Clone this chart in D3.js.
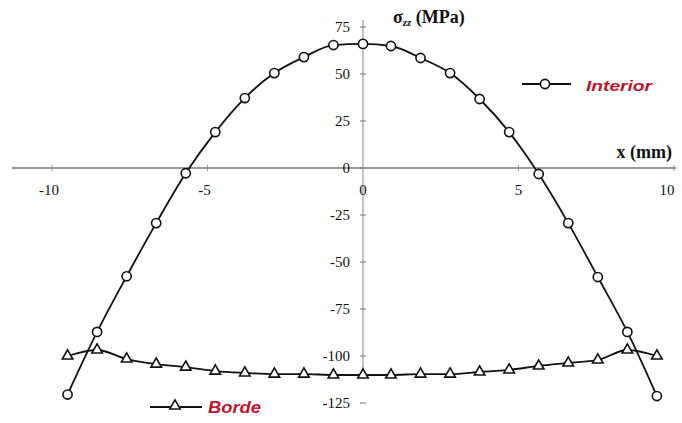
<!DOCTYPE html>
<html><head><meta charset="utf-8">
<script src="https://cdn.jsdelivr.net/npm/d3@7"></script>
<style>body{margin:0;background:#fff}svg{display:block}</style>
</head><body>
<svg id="c" width="682" height="423"></svg>
<script>
const xPos = [-9.5,-8.55,-7.6,-6.65,-5.7,-4.75,-3.8,-2.85,-1.9,-0.95,0,0.9,1.85,2.8,3.75,4.7,5.65,6.6,7.55,8.5,9.45];
const interior = [-120.5,-87.2,-57.6,-29.3,-2.8,19.1,37.2,50.5,59.0,65.4,66.0,64.9,58.5,50.5,36.7,19.1,-3.2,-29.3,-58.0,-87.2,-121.3];
const borde = [-100.0,-96.8,-101.6,-104.3,-105.9,-108.0,-109.0,-109.6,-109.6,-110.1,-110.1,-110.1,-109.6,-109.6,-108.5,-107.4,-105.3,-103.7,-102.1,-96.8,-100.0];
const xTicks = [-10,-5,0,5,10];
const yTicks = [75,50,25,0,-25,-50,-75,-100,-125];

const svg = d3.select("#c");
const x = d3.scaleLinear().domain([-10,10]).range([52,674]);
const y = d3.scaleLinear().domain([-125,75]).range([403,27]);
const serif = "'Liberation Serif','Times New Roman',serif";
const sans = "'Liberation Sans',Arial,sans-serif";

// x axis line
svg.append("line").attr("x1",12).attr("x2",676).attr("y1",y(0)).attr("y2",y(0))
  .attr("stroke","#9a9a9a").attr("stroke-width",1.8);
// y axis line
svg.append("line").attr("x1",x(0)).attr("x2",x(0)).attr("y1",20).attr("y2",y(-112))
  .attr("stroke","#b0b0b0").attr("stroke-width",1.5);

// y ticks
const yg = svg.append("g");
yTicks.forEach(t=>{
  yg.append("line").attr("x1",x(0)-3).attr("x2",x(0)+3).attr("y1",y(t)).attr("y2",y(t))
    .attr("stroke","#888").attr("stroke-width",1.2);
  yg.append("text").attr("x",x(0)-13).attr("y",y(t)).attr("dy","0.35em")
    .attr("text-anchor","end").attr("font-family",serif).attr("font-size",15)
    .attr("fill","#111").text(t);
});
// x ticks
xTicks.forEach(t=>{
  if(t!==0) svg.append("line").attr("x1",x(t)).attr("x2",x(t)).attr("y1",y(0)-3).attr("y2",y(0)+3)
    .attr("stroke","#999").attr("stroke-width",1);
  svg.append("text").attr("x",x(t)+(t<0?-3:(t===10?-7:0))).attr("y",y(0)+27)
    .attr("text-anchor","middle").attr("font-family",serif).attr("font-size",15)
    .attr("fill","#111").text(t);
});

// axis titles
const tt = svg.append("text").attr("x",393).attr("y",23).attr("font-family",serif)
  .attr("font-size",18).attr("font-weight","bold").attr("fill","#111");
tt.append("tspan").text("σ");
tt.append("tspan").attr("font-size",11).attr("font-style","italic").attr("dy",3).text("zz");
tt.append("tspan").attr("dy",-3).text(" (MPa)");
svg.append("text").attr("x",672).attr("y",158).attr("text-anchor","end")
  .attr("font-family",serif).attr("font-size",18).attr("font-weight","bold").attr("fill","#111")
  .text("x (mm)");

// lines
const lineI = d3.line().x((d,i)=>x(xPos[i])).y(d=>y(d)).curve(d3.curveMonotoneX);
const lineB = d3.line().x((d,i)=>x(xPos[i])).y(d=>y(d)).curve(d3.curveMonotoneX);
svg.append("path").attr("d",lineI(interior)).attr("fill","none").attr("stroke","#111").attr("stroke-width",1.8);
svg.append("path").attr("d",lineB(borde)).attr("fill","none").attr("stroke","#111").attr("stroke-width",1.8);

const tri = d3.symbol().type(d3.symbolTriangle).size(48);
function circle(g,cx,cy){g.append("circle").attr("cx",cx).attr("cy",cy).attr("r",4.6)
  .attr("fill","#fff").attr("stroke","#111").attr("stroke-width",1.6);}
function triangle(g,cx,cy){g.append("path").attr("d",tri()).attr("transform",`translate(${cx},${cy})`)
  .attr("fill","#fff").attr("stroke","#111").attr("stroke-width",1.6);}

const mg = svg.append("g");
interior.forEach((v,i)=>circle(mg,x(xPos[i]),y(v)));
borde.forEach((v,i)=>triangle(mg,x(xPos[i]),y(v)));

// legends
svg.append("line").attr("x1",522).attr("x2",571).attr("y1",84).attr("y2",84).attr("stroke","#111").attr("stroke-width",1.8);
circle(svg,545,84);
svg.append("text").attr("x",586).attr("y",91).attr("font-family",sans).attr("font-style","italic")
  .attr("font-weight","bold").attr("font-size",15).attr("textLength",66).attr("lengthAdjust","spacingAndGlyphs")
  .attr("fill","#c0142a").text("Interior");
svg.append("line").attr("x1",150).attr("x2",202).attr("y1",407).attr("y2",407).attr("stroke","#111").attr("stroke-width",1.8);
triangle(svg,175,406);
svg.append("text").attr("x",208).attr("y",413).attr("font-family",sans).attr("font-style","italic")
  .attr("font-weight","bold").attr("font-size",16).attr("textLength",53).attr("lengthAdjust","spacingAndGlyphs")
  .attr("fill","#c0142a").text("Borde");
</script>
</body></html>
